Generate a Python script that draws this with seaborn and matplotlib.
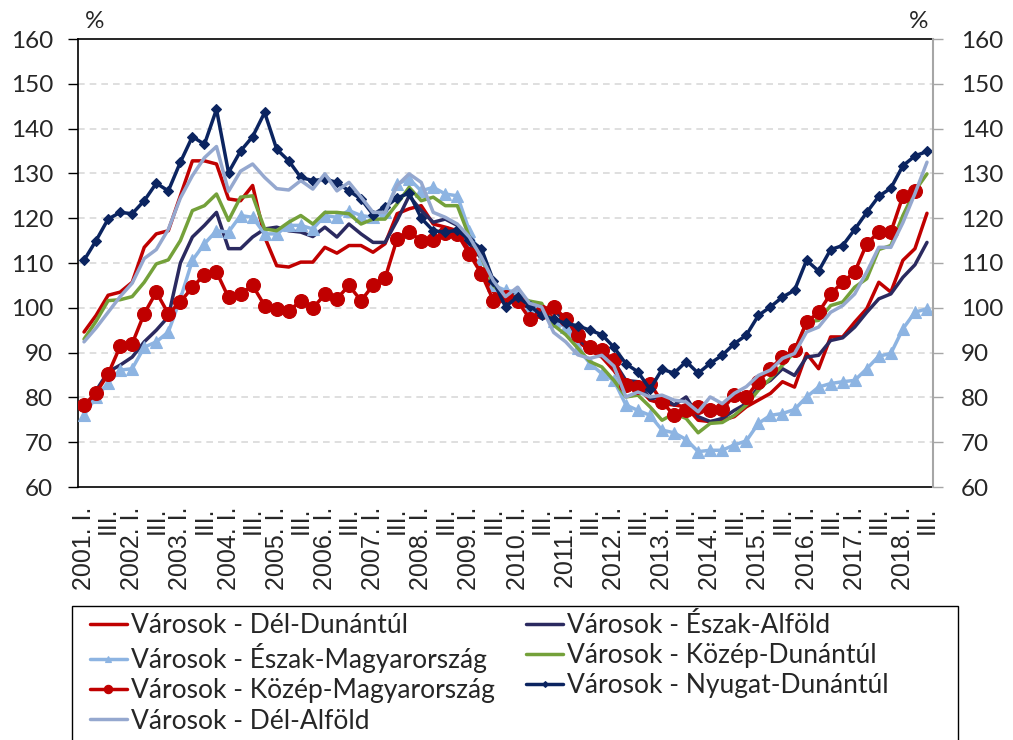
import numpy as np
import pandas as pd
import seaborn as sns
import matplotlib.pyplot as plt
from matplotlib.patches import Rectangle

# ---------------- adatok ----------------
years = list(range(2001, 2019))
quarters = [f"{y}. {q}" for y in years for q in ("I.", "II.", "III.", "IV.")][:71]
tick_labels = [q if q.endswith(" I.") else ("III." if q.endswith("III.") else "") for q in quarters]

del_dunantul = [94.6, 98.3, 102.8, 103.5, 105.7, 113.5, 116.5, 117.2, 125.0, 132.8, 132.8, 132.1,
                124.3, 123.9, 127.3, 115.8, 109.4, 109.1, 110.2, 110.2, 113.5, 112.2, 113.9, 113.9,
                112.4, 114.3, 121.0, 122.1, 122.8, 118.7, 118.0, 117.2, 112.8, 108.7, 103.5, 101.5,
                101.0, 100.0, 100.5, 97.5, 96.0, 92.5, 90.5, 89.0, 86.0, 82.3, 82.3, 79.4,
                78.6, 78.3, 77.9, 74.9, 74.6, 74.9, 75.7, 77.9, 79.4, 80.9, 83.5, 82.3,
                89.8, 86.4, 93.5, 93.5, 96.8, 99.8, 105.7, 103.5, 110.6, 113.2, 121.1]
eszak_alfold = [77.0, 81.5, 85.7, 87.2, 89.0, 92.4, 95.0, 98.0, 110.0, 115.8, 118.4, 121.3,
                113.2, 113.2, 115.8, 117.6, 118.0, 117.2, 116.9, 115.9, 118.0, 115.8, 118.7, 116.5,
                114.6, 114.6, 119.5, 125.0, 121.7, 119.1, 119.8, 118.4, 114.3, 111.0, 105.0, 102.0,
                103.5, 101.0, 100.0, 99.5, 97.0, 93.0, 91.0, 89.5, 88.0, 83.8, 83.5, 79.7,
                80.1, 78.3, 80.1, 75.7, 74.6, 75.3, 77.1, 78.6, 82.3, 83.8, 86.4, 84.9,
                89.0, 89.4, 92.7, 93.3, 95.7, 99.0, 102.0, 103.1, 106.8, 109.6, 114.6]
eszak_magyarorszag = [76.0, 80.1, 83.2, 86.1, 86.4, 91.2, 92.4, 94.6, 102.0, 110.6, 114.3, 117.2,
                      116.9, 120.6, 120.2, 116.5, 116.5, 118.4, 118.4, 117.6, 120.6, 120.2, 121.7, 120.6,
                      120.2, 121.3, 127.6, 128.8, 126.1, 126.9, 125.4, 125.0, 117.2, 111.0, 105.0, 103.9,
                      103.5, 100.5, 99.5, 97.0, 95.7, 91.0, 87.6, 85.3, 83.8, 78.3, 77.1, 76.0,
                      72.7, 72.1, 70.6, 67.9, 68.2, 68.2, 69.4, 70.3, 74.2, 76.0, 76.4, 77.3,
                      80.1, 82.3, 83.1, 83.5, 83.8, 86.4, 89.2, 89.8, 95.3, 99.0, 99.8]
kozep_dunantul = [93.0, 97.0, 101.6, 101.8, 102.5, 105.7, 109.8, 110.7, 115.0, 121.7, 122.8, 125.4,
                  119.5, 124.7, 125.0, 117.6, 117.2, 119.1, 120.6, 118.7, 121.3, 121.3, 121.0, 118.7,
                  119.8, 119.8, 123.2, 126.9, 123.9, 124.7, 122.8, 122.8, 115.8, 111.3, 105.0, 102.5,
                  102.5, 101.5, 101.0, 96.1, 94.0, 91.0, 88.0, 86.8, 83.8, 80.1, 80.5, 77.9,
                  74.9, 76.4, 75.3, 72.1, 74.2, 74.4, 76.0, 78.3, 81.6, 84.2, 87.2, 90.1,
                  96.8, 97.2, 100.5, 101.3, 104.6, 106.5, 113.0, 113.9, 120.6, 126.1, 129.9]
kozep_magyarorszag = [78.3, 81.0, 85.2, 91.4, 92.0, 98.7, 103.5, 98.7, 101.3, 104.6, 107.4, 108.0,
                      102.3, 103.1, 105.0, 100.5, 99.8, 99.2, 101.6, 99.9, 103.0, 102.0, 105.0, 101.6,
                      105.0, 106.6, 115.4, 116.9, 115.0, 115.2, 116.6, 116.5, 112.0, 107.6, 101.6, 102.5,
                      101.5, 97.6, 99.0, 100.2, 97.6, 93.9, 91.2, 90.5, 88.3, 82.7, 82.3, 83.1,
                      79.0, 76.0, 77.1, 77.9, 77.1, 77.3, 80.5, 80.1, 83.5, 86.4, 89.0, 90.5,
                      96.8, 99.0, 103.1, 105.7, 108.0, 114.3, 116.9, 116.9, 124.9, 126.1, np.nan]
nyugat_dunantul = [110.6, 115.0, 119.8, 121.3, 121.0, 123.9, 127.8, 126.1, 132.5, 138.2, 136.5, 144.3,
                   130.2, 135.0, 138.2, 143.6, 135.4, 132.8, 129.1, 128.4, 128.7, 128.0, 126.1, 124.3,
                   120.8, 122.5, 124.5, 125.6, 120.0, 117.2, 116.9, 117.3, 115.2, 113.2, 106.0, 100.2,
                   102.5, 100.5, 98.3, 97.5, 96.5, 96.0, 95.0, 94.0, 91.2, 87.5, 85.7, 81.8,
                   86.3, 85.4, 88.0, 85.4, 87.6, 89.4, 92.0, 93.9, 98.3, 100.2, 102.4, 103.9,
                   110.6, 108.2, 113.0, 113.9, 117.5, 121.3, 124.9, 126.7, 131.7, 133.9, 134.9]
del_alfold = [92.4, 95.5, 99.0, 102.5, 105.5, 111.0, 113.0, 117.5, 124.5, 129.5, 133.5, 136.0,
              126.0, 130.5, 132.1, 129.1, 126.6, 126.3, 128.4, 126.5, 129.9, 126.1, 128.0, 124.7,
              121.3, 121.3, 127.3, 129.9, 128.0, 121.3, 120.2, 118.7, 115.8, 111.3, 106.0, 102.5,
              104.6, 101.0, 100.2, 94.5, 92.4, 89.5, 88.7, 89.4, 87.0, 80.1, 81.2, 80.1,
              80.5, 79.4, 79.0, 76.8, 80.1, 78.6, 80.9, 82.4, 84.9, 86.1, 88.7, 89.8,
              94.6, 95.7, 99.0, 100.5, 103.1, 108.0, 113.5, 113.5, 119.0, 125.5, 132.5]

# sorrend = Excel sorozat-sorrend (az utolsó kerül felülre)
series = [
    ("Városok - Dél-Dunántúl", del_dunantul, "#C00000", None, 0),
    ("Városok - Észak-Alföld", eszak_alfold, "#2B2A60", None, 0),
    ("Városok - Észak-Magyarország", eszak_magyarorszag, "#8DB4E2", "^", 8),
    ("Városok - Közép-Dunántúl", kozep_dunantul, "#74A13A", None, 0),
    ("Városok - Közép-Magyarország", kozep_magyarorszag, "#C00000", "o", 10),
    ("Városok - Nyugat-Dunántúl", nyugat_dunantul, "#0B2460", "D", 5),
    ("Városok - Dél-Alföld", del_alfold, "#95A8CF", None, 0),
]

# ---------------- ábra ----------------
sns.set_style("white")
plt.rcParams["font.family"] = ["Lato", "DejaVu Sans"]

fig = plt.figure(figsize=(10.13, 7.4), dpi=100)
ax = fig.add_axes([78 / 1013, 1 - 487 / 740, (933 - 78) / 1013, (487 - 39) / 740])

x = np.arange(len(quarters))
for z, (name, vals, col, mk, ms) in enumerate(series):
    sns.lineplot(x=x, y=vals, ax=ax, color=col, linewidth=2.5, label=name,
                 marker=mk, markersize=ms, markeredgecolor=col, markeredgewidth=0.8,
                 zorder=3 + z)

ax.set_xlim(-0.5, len(quarters) - 0.5)
ax.set_ylim(60, 160)
ax.set_yticks(range(60, 161, 10))
for v in range(70, 160, 10):
    ax.axhline(v, color="#D9D9D9", linestyle=(0, (4, 3)), linewidth=1.2, zorder=1)

ax.set_xticks(x[::2])
ax.set_xticklabels(tick_labels[::2], rotation=90, fontsize=18,
                   family=["Liberation Sans", "DejaVu Sans"])
ax.set_xticks(np.arange(-0.5, len(quarters), 1), minor=True)
ax.tick_params(axis="x", which="major", length=0, pad=14)
ax.tick_params(axis="x", which="minor", length=6, width=1, color="black", direction="out")
ax.tick_params(axis="y", which="major", length=7, width=1, color="black", direction="out",
               labelsize=17.5, pad=11)

for s in ("left", "bottom", "top"):
    ax.spines[s].set_color("black")
    ax.spines[s].set_linewidth(1.2)
ax.spines["right"].set_visible(False)

ax2 = ax.twinx()
ax2.set_ylim(60, 160)
ax2.set_yticks(range(60, 161, 10))
ax2.tick_params(axis="y", length=7, width=1, color="#A6A6A6", direction="out", labelsize=17.5, pad=13)
for s in ("left", "bottom", "top"):
    ax2.spines[s].set_visible(False)
ax2.spines["right"].set_color("#A6A6A6")
ax2.spines["right"].set_linewidth(1.5)

fig.text(95 / 1013, 1 - 22 / 740, "%", fontsize=17.5, ha="center", va="center")
fig.text(919 / 1013, 1 - 22 / 740, "%", fontsize=17.5, ha="center", va="center")

# jelmagyarázat: Excel-szerű, fix szélességű keret
fig.patches.append(Rectangle((72 / 1013, -0.05), (958 - 72) / 1013, 0.05 + (740 - 606) / 740,
                             transform=fig.transFigure, fill=False, edgecolor="black",
                             linewidth=1.0, zorder=1))
handles, labels = ax.get_legend_handles_labels()
ax.get_legend().remove()
order = [0, 2, 4, 6, 1, 3, 5]  # oszloponkénti kitöltés miatt
leg = fig.legend([handles[i] for i in order], [labels[i] for i in order], ncol=2, loc="upper left",
                 bbox_to_anchor=(84 / 1013, 1 - 607 / 740), bbox_transform=fig.transFigure,
                 fontsize=19, frameon=False,
                 handlelength=1.4, handletextpad=0.15, labelspacing=0.2,
                 columnspacing=1.2, borderpad=0.22, borderaxespad=0, markerscale=0.6)

fig.savefig("out.png", dpi=100)
